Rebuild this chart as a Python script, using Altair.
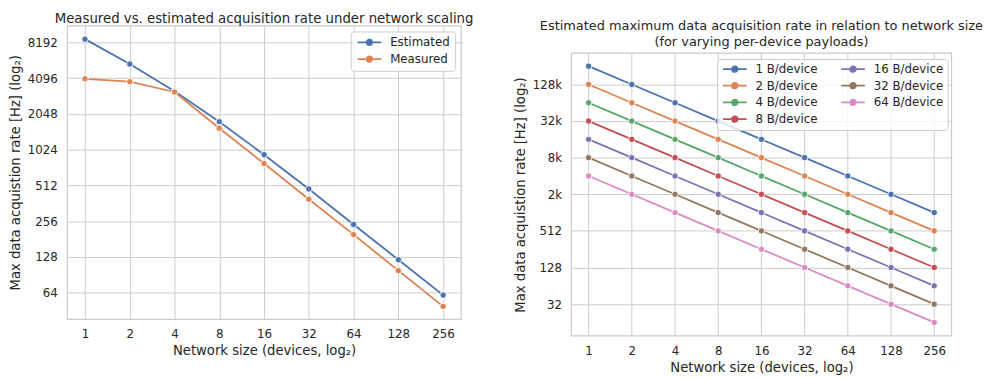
import altair as alt
import pandas as pd

# ---------------- data ----------------
sizes = [1, 2, 4, 8, 16, 32, 64, 128, 256]
estimated = [8720, 5380, 3170, 1757, 928, 477, 240, 121, 61]
measured = [4040, 3820, 3130, 1550, 782, 391, 197, 98, 49]

payload_labels = ["1 B/device", "2 B/device", "4 B/device", "8 B/device",
                  "16 B/device", "32 B/device", "64 B/device"]
rate_1B = [262144, 131072, 65536, 32768, 16384, 8192, 4096, 2048, 1024]
rate_2B = [131072, 65536, 32768, 16384, 8192, 4096, 2048, 1024, 512]
rate_4B = [65536, 32768, 16384, 8192, 4096, 2048, 1024, 512, 256]
rate_8B = [32768, 16384, 8192, 4096, 2048, 1024, 512, 256, 128]
rate_16B = [16384, 8192, 4096, 2048, 1024, 512, 256, 128, 64]
rate_32B = [8192, 4096, 2048, 1024, 512, 256, 128, 64, 32]
rate_64B = [4096, 2048, 1024, 512, 256, 128, 64, 32, 16]
payload_rates = [rate_1B, rate_2B, rate_4B, rate_8B, rate_16B, rate_32B, rate_64B]

left_series = ["Estimated", "Measured"]
left_colors = ["#4C72B0", "#DD8452"]
right_colors = ["#4C72B0", "#DD8452", "#55A868", "#C44E52", "#8172B3", "#937860", "#DA8BC3"]

left_yticks = [64, 128, 256, 512, 1024, 2048, 4096, 8192]
right_yticks = [32, 128, 512, 2048, 8192, 32768, 131072]

X_DOM = [2 ** -0.4, 2 ** 8.4]
LEFT_Y_DOM = [2 ** 5.26, 2 ** 13.47]
RIGHT_Y_DOM = [2 ** 3.27, 2 ** 18.71]

# ---------------- frames ----------------
df_left = pd.DataFrame({
    "size": sizes * 2,
    "rate": estimated + measured,
    "series": ["Estimated"] * len(sizes) + ["Measured"] * len(sizes),
})
rows = []
for lab, vals in zip(payload_labels, payload_rates):
    for s, v in zip(sizes, vals):
        rows.append({"size": s, "rate": v, "series": lab})
df_right = pd.DataFrame(rows)
df_vgrid = pd.DataFrame({"size": sizes, "rate": RIGHT_Y_DOM[0], "hi": RIGHT_Y_DOM[1]})
df_frame = pd.DataFrame({"size": [X_DOM[0]], "x1": [X_DOM[1]],
                         "rate": [RIGHT_Y_DOM[0]], "hi": [RIGHT_Y_DOM[1]]})

TXT = "#262626"
FONT = "DejaVu Sans"
GRID = "#cccccc"
SYMBOL = "M-1,0L5,0M2.7,0A0.7,0.7,0,1,1,1.3,0A0.7,0.7,0,1,1,2.7,0Z"
XTITLE = "Network size (devices, log₂)"
YTITLE = "Max data acquistion rate [Hz] (log₂)"


def legend(cols, pad, rowpad, **kw):
    return alt.Legend(
        title=None, columns=cols,
        symbolType=SYMBOL, symbolSize=64, symbolStrokeWidth=1.8,
        labelFontSize=12, labelColor=TXT, labelFont=FONT, labelOffset=23,
        rowPadding=rowpad, columnPadding=19, padding=pad,
        fillColor="rgba(255,255,255,0.8)", strokeColor=GRID, cornerRadius=3, **kw,
    )


# ---------------- left panel ----------------
lbase = alt.Chart(df_left).encode(
    x=alt.X("size:Q", scale=alt.Scale(type="log", base=2, domain=X_DOM, nice=False),
            axis=alt.Axis(values=sizes, format="d", title=XTITLE)),
    y=alt.Y("rate:Q", scale=alt.Scale(type="log", base=2, domain=LEFT_Y_DOM, nice=False),
            axis=alt.Axis(values=left_yticks, format="d", title=YTITLE)),
    color=alt.Color("series:N", scale=alt.Scale(domain=left_series, range=left_colors),
                    legend=legend(1, 5, 3, orient="top-right", offset=6)),
    detail="series:N",
)
left = alt.layer(
    lbase.mark_line(strokeWidth=1.8),
    lbase.mark_point(filled=True, size=42, stroke="white", strokeWidth=0.9, opacity=1),
).properties(
    width=400, height=298,
    title=alt.Title("Measured vs. estimated acquisition rate under network scaling",
                    fontSize=13.5, offset=0.5),
)

# ---------------- right panel ----------------
RH = 315
RTOP = 28
xs_r = alt.Scale(type="log", base=2, domain=X_DOM, nice=False)
ys_r = alt.Scale(type="log", base=2, domain=RIGHT_Y_DOM, nice=False, range=[RH, RTOP])
xaxis_r = alt.Axis(values=sizes, format="d", title=XTITLE, grid=False)
yaxis_r = alt.Axis(values=right_yticks, title=YTITLE, titleY=RTOP + (RH - RTOP) / 2,
                   labelExpr="datum.value >= 1024 ? format(datum.value / 1024, 'd') + 'k' : format(datum.value, 'd')")

vgrid = alt.Chart(df_vgrid).mark_rule(color=GRID, strokeWidth=1).encode(
    x=alt.X("size:Q", scale=xs_r, axis=xaxis_r),
    y=alt.Y("rate:Q", scale=ys_r, axis=yaxis_r),
    y2="hi:Q",
)
frame = alt.Chart(df_frame).mark_rect(fillOpacity=0, stroke=GRID, strokeWidth=1.25).encode(
    x=alt.X("size:Q", scale=xs_r, axis=xaxis_r),
    x2="x1:Q",
    y=alt.Y("rate:Q", scale=ys_r, axis=yaxis_r),
    y2="hi:Q",
)
rbase = alt.Chart(df_right).encode(
    x=alt.X("size:Q", scale=xs_r, axis=xaxis_r),
    y=alt.Y("rate:Q", scale=ys_r, axis=yaxis_r),
    color=alt.Color("series:N", scale=alt.Scale(domain=payload_labels, range=right_colors),
                    legend=legend(2, 4, 3, orient="none", legendX=148, legendY=34)),
    detail="series:N",
)
right = alt.layer(
    vgrid,
    rbase.mark_line(strokeWidth=1.8),
    rbase.mark_point(filled=True, size=42, stroke="white", strokeWidth=0.9, opacity=1),
    frame,
).properties(
    width=386, height=RH,
    view=alt.ViewBackground(stroke=None),
    title=alt.Title(["Estimated maximum data acquisition rate in relation to network size",
                     "(for varying per-device payloads)"],
                    fontSize=13.1, lineHeight=16, offset=0, dy=24),
)

chart = alt.hconcat(left, right, spacing=39).resolve_scale(
    color="independent"
).resolve_legend(
    color="independent"
).configure(
    padding=0, background="white", font=FONT,
).configure_view(
    stroke=GRID, strokeWidth=1.25,
).configure_axis(
    grid=True, gridColor=GRID, gridWidth=1, domain=False, ticks=False, tickSize=0,
    labelFontSize=12, labelColor=TXT, labelFont=FONT, labelPadding=10,
    titleFontSize=13.4, titleColor=TXT, titleFont=FONT, titleFontWeight="normal",
).configure_axisX(
    titlePadding=4,
).configure_axisY(
    titlePadding=4.5,
).configure_title(
    fontSize=13.1, color=TXT, font=FONT, fontWeight="normal", anchor="middle",
)

chart.save("out.html", embed_options={"renderer": "svg", "actions": False})
